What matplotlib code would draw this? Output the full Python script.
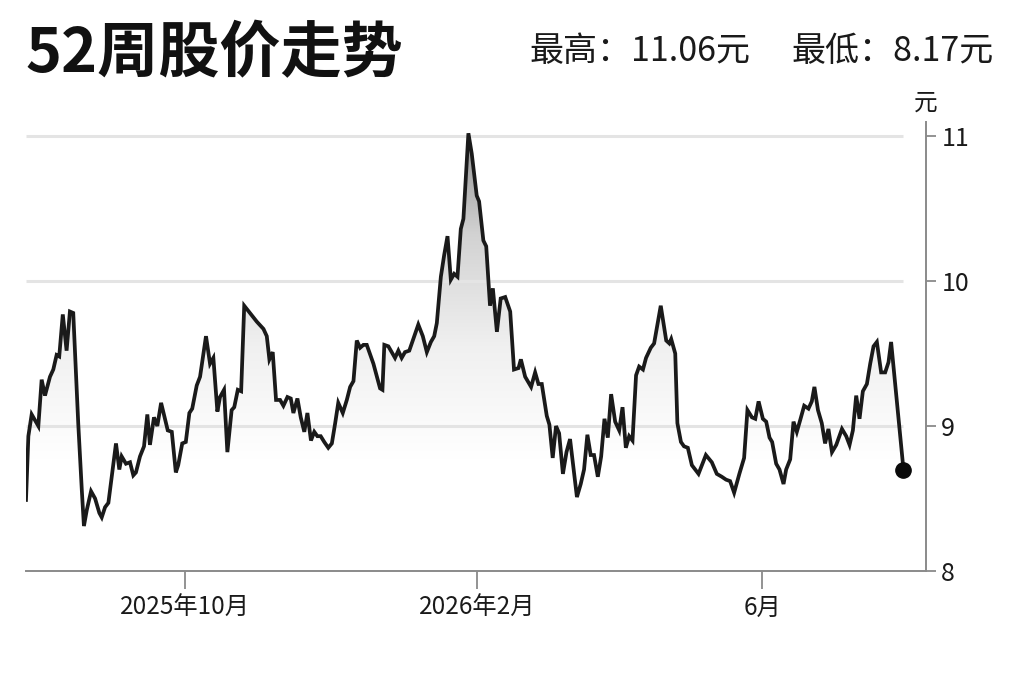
import matplotlib
matplotlib.use("Agg")
import matplotlib.pyplot as plt
import matplotlib.dates as mdates
from matplotlib.colors import LinearSegmentedColormap
import numpy as np
import pandas as pd

plt.rcParams['font.family'] = ['Noto Sans CJK SC', 'DejaVu Sans']

# data: day offset from start date, close price (元)
start_date = "2025-07-26"
days = [0.0, 1.0, 2.4, 5.2, 6.6, 8.0, 10.1, 11.5, 12.9, 14.0, 15.5, 17.1, 18.5, 19.9,
        22.0, 23.5, 24.4, 25.6, 27.4, 29.1, 30.9, 31.9, 33.3, 34.7, 37.9, 39.3, 40.3,
        42.1, 43.8, 45.2, 46.3, 48.0, 49.7, 51.1, 52.2, 53.9, 55.3, 56.9, 59.7, 61.4,
        63.1, 64.1, 65.8, 67.3, 68.8, 70.0, 71.9, 73.3, 75.8, 77.5, 78.9, 80.6, 81.7,
        83.4, 84.8, 86.6, 87.7, 89.2, 90.6, 91.9, 94.3, 97.2, 100.0, 101.4, 102.5,
        103.9, 105.3, 107.0, 108.4, 110.1, 111.5, 112.6, 114.3, 115.7, 117.2, 118.5,
        120.0, 121.4, 122.7, 124.1, 125.6, 127.3, 128.8, 130.2, 131.5, 133.4, 135.1,
        136.5, 137.9, 139.3, 140.7, 142.1, 143.5, 146.3, 149.1, 150.1, 150.9, 152.6,
        155.4, 156.8, 158.2, 159.6, 161.4, 163.1, 165.2, 167.1, 168.8, 170.5, 171.9,
        173.0, 174.7, 176.1, 177.5, 178.9, 180.3, 181.7, 183.1, 184.2, 186.3, 187.7,
        189.8, 190.8, 192.6, 193.8, 195.4, 196.6, 198.3, 199.9, 201.8, 203.9, 205.5,
        207.4, 208.4, 210.2, 212.7, 214.4, 215.8, 217.2, 219.3, 220.4, 221.8, 223.2,
        224.5, 226.1, 227.6, 229.1, 232.0, 233.6, 235.0, 236.4, 237.8, 239.2, 240.8,
        242.2, 243.6, 245.0, 246.4, 248.1, 249.8, 251.2, 252.6, 254.0, 255.4, 256.9,
        258.2, 259.8, 261.1, 263.1, 264.5, 267.3, 269.6, 270.9, 271.7, 273.4, 274.3,
        275.8, 277.1, 278.7, 280.4, 283.2, 286.3, 288.8, 290.9, 293.0, 294.8, 296.5,
        298.2, 300.4, 302.4, 303.8, 305.7, 307.1, 308.5, 310.3, 311.7, 313.1, 314.2,
        315.9, 317.3, 319.0, 320.1, 321.8, 323.2, 324.6, 326.0, 327.7, 329.5, 330.9,
        332.0, 333.5, 335.1, 336.5, 337.9, 339.4, 341.2, 343.6, 345.4, 346.8, 348.2,
        349.6, 351.0, 352.4, 354.1, 355.5, 356.9, 358.3, 360.1, 361.8, 363.2, 364.3,
        369.5]
price = [8.49, 8.93, 9.08, 9.00, 9.32, 9.21, 9.34, 9.39, 9.49, 9.48, 9.77, 9.52, 9.79, 9.78,
         9.02, 8.56, 8.31, 8.42, 8.55, 8.50, 8.40, 8.37, 8.44, 8.47, 8.88, 8.70, 8.79,
         8.74, 8.75, 8.66, 8.68, 8.79, 8.86, 9.08, 8.87, 9.06, 9.00, 9.16, 8.97, 8.96,
         8.68, 8.73, 8.88, 8.89, 9.09, 9.12, 9.28, 9.34, 9.62, 9.43, 9.47, 9.10, 9.20,
         9.25, 8.82, 9.11, 9.13, 9.25, 9.24, 9.83, 9.78, 9.72, 9.67, 9.62, 9.46,
         9.51, 9.18, 9.18, 9.14, 9.20, 9.19, 9.09, 9.19, 9.06, 8.96, 9.09,
         8.90, 8.96, 8.93, 8.93, 8.89, 8.85, 8.88, 9.02, 9.16, 9.09, 9.18,
         9.27, 9.31, 9.59, 9.54, 9.56, 9.56, 9.43, 9.26, 9.25, 9.56, 9.55,
         9.47, 9.52, 9.47, 9.51, 9.52, 9.60, 9.70, 9.62, 9.51, 9.58, 9.62,
         9.71, 10.03, 10.18, 10.31, 10.01, 10.05, 10.03, 10.36, 10.43, 11.02, 10.88,
         10.59, 10.55, 10.28, 10.24, 9.83, 9.95, 9.65, 9.88, 9.89, 9.79, 9.39,
         9.40, 9.46, 9.34, 9.27, 9.37, 9.29, 9.29, 9.07, 9.01, 8.78, 9.00,
         8.95, 8.67, 8.82, 8.91, 8.51, 8.60, 8.70, 8.94, 8.80, 8.80, 8.65,
         8.79, 9.05, 8.92, 9.22, 9.03, 8.97, 9.13, 8.85, 8.93, 8.90, 9.35,
         9.41, 9.39, 9.47, 9.54, 9.57, 9.83, 9.59, 9.57, 9.60, 9.50, 9.02,
         8.89, 8.86, 8.85, 8.73, 8.67, 8.80, 8.75, 8.67, 8.65, 8.63, 8.62,
         8.54, 8.67, 8.78, 9.11, 9.06, 9.05, 9.17, 9.05, 9.03, 8.92, 8.89,
         8.74, 8.70, 8.60, 8.70, 8.77, 9.03, 8.96, 9.04, 9.14, 9.12, 9.17,
         9.27, 9.11, 9.02, 8.88, 8.98, 8.82, 8.87, 8.98, 8.93, 8.87, 8.97,
         9.21, 9.05, 9.24, 9.29, 9.43, 9.55, 9.58, 9.37, 9.37, 9.44, 9.58,
         8.70]
y_ticks = [8, 9, 10, 11]
x_tick_dates = ["2025-10-01", "2026-02-01", "2026-06-01"]
x_tick_labels = ["2025年10月", "2026年2月", "6月"]
title = "52周股价走势"
high_text = "最高：11.06元"
low_text = "最低：8.17元"
unit = "元"

dates = pd.Timestamp(start_date) + pd.to_timedelta(days, unit="D")
xn = mdates.date2num(dates)
x_left = xn[0]
x_right = mdates.date2num(pd.Timestamp(start_date) + pd.Timedelta(days=379))
y_low, y_top = 8, 11.1

fig = plt.figure(figsize=(10.23, 6.82), dpi=100)
ax = fig.add_axes([0.0254, 0.1628, 0.8798, 0.6588])

# gradient fill under the line
cmap = LinearSegmentedColormap.from_list("g", ["#ffffff", "#ffffff", "#f0f0f0", "#d2d2d2", "#8a8a8a"])
grad = np.linspace(0, 1, 256).reshape(-1, 1)
poly = ax.fill_between(xn, price, y_low, color="none", lw=0)
img = ax.imshow(grad, extent=[x_left, xn[-1], y_low, 11.1], origin="lower",
                aspect="auto", cmap=cmap, vmin=0, vmax=1, zorder=1)
img.set_clip_path(poly.get_paths()[0], transform=ax.transData)

# grid lines stop at the last point
for yv in y_ticks[1:]:
    ax.plot([x_left, xn[-1]], [yv, yv], color="#e4e4e4", lw=2.2, zorder=2,
            solid_capstyle="butt")

ax.plot(xn, price, color="#1a1a1a", lw=2.7, zorder=3, solid_joinstyle="miter")
ax.plot(xn[-1], price[-1], "o", color="#0a0a0a", ms=11, zorder=4)

ax.set_xlim(x_left, x_right)
ax.set_ylim(y_low, y_top)

for s in ["top", "left"]:
    ax.spines[s].set_visible(False)
for s in ["right", "bottom"]:
    ax.spines[s].set_color("#8a8a8a")
    ax.spines[s].set_linewidth(1.4)

ax.yaxis.tick_right()
ax.set_yticks(y_ticks)
ax.set_yticklabels([str(v) for v in y_ticks])
ax.tick_params(axis="y", length=7, width=1.3, color="#8a8a8a", labelsize=18,
               labelcolor="#1a1a1a", pad=4)
ax.set_xticks(mdates.date2num(pd.to_datetime(x_tick_dates)))
ax.set_xticklabels(x_tick_labels)
ax.tick_params(axis="x", length=13, width=1.3, color="#8a8a8a", labelsize=17.5,
               labelcolor="#1a1a1a", pad=4)

fig.text(0.0245, 0.92, title, fontsize=44, fontweight="black", color="#111111",
         va="center", ha="left")
fig.text(0.518, 0.925, high_text, fontsize=24.5, color="#1a1a1a", va="center", ha="left")
fig.text(0.774, 0.925, low_text, fontsize=24.5, color="#1a1a1a", va="center", ha="left")
fig.text(0.905, 0.849, unit, fontsize=17, color="#1a1a1a", va="center", ha="center")

fig.savefig("out.png", dpi=100, facecolor="white")
